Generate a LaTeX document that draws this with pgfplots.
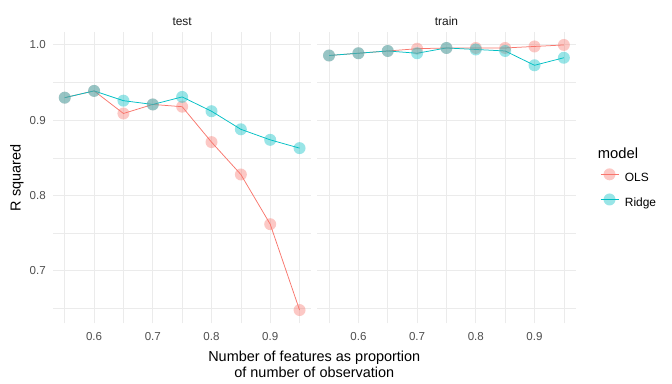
\documentclass[border=0pt]{standalone}
\usepackage{fontspec}
\setmainfont{Liberation Sans}
\usepackage{pgfplots}
\pgfplotsset{compat=1.18}
\definecolor{olsc}{HTML}{F8766D}
\definecolor{ridgec}{HTML}{00BFC4}
\definecolor{gridc}{HTML}{EBEBEB}
\definecolor{tickc}{HTML}{4D4D4D}
\definecolor{stripc}{HTML}{1A1A1A}
\pgfplotsset{
  panel/.style={
    scale only axis, width=258.3bp, height=291.6bp,
    xmin=0.53, xmax=0.97, ymin=0.6304, ymax=1.0176,
    clip=false,
    axis line style={draw=none}, major tick length=0pt, minor tick length=0pt,
    tick style={draw=none},
    xtick={0.6,0.7,0.8,0.9}, minor xtick={0.55,0.65,0.75,0.85,0.95},
    ytick={0.7,0.8,0.9,1.0}, minor ytick={0.65,0.75,0.85,0.95},
    xticklabels={0.6,0.7,0.8,0.9},
    grid=both,
    major grid style={draw=gridc, line width=1bp},
    minor grid style={draw=gridc, line width=0.55bp},
    tick label style={font=\fontsize{11.6}{13}\selectfont, text=tickc},
    xticklabel style={anchor=north, inner sep=0pt, yshift=-9.2bp},
    yticklabel style={anchor=east, inner sep=0pt, xshift=-7bp},
  },
  ols/.style={color=olsc, line width=0.75bp, mark=*, mark size=6bp,
    mark options={fill=olsc, fill opacity=0.4, draw opacity=0}},
  ridge/.style={color=ridgec, line width=0.75bp, mark=*, mark size=6bp,
    mark options={fill=ridgec, fill opacity=0.4, draw opacity=0}},
}
\begin{document}
\begin{tikzpicture}
\useasboundingbox (0,0) rectangle (672bp,384bp);
\begin{axis}[panel, at={(53bp,60.7bp)}, anchor=south west,
  yticklabels={0.7,0.8,0.9,1.0}]
\addplot[ols] coordinates {(0.55,0.930)(0.60,0.939)(0.65,0.909)(0.70,0.921)(0.75,0.918)(0.80,0.871)(0.85,0.828)(0.90,0.762)(0.95,0.648)};
\addplot[ridge] coordinates {(0.55,0.930)(0.60,0.939)(0.65,0.926)(0.70,0.921)(0.75,0.931)(0.80,0.912)(0.85,0.888)(0.90,0.874)(0.95,0.863)};
\node[anchor=base, inner sep=0pt, yshift=6.5bp, font=\fontsize{12}{13}\selectfont, text=stripc] at (axis description cs:0.5,1) {test};
\end{axis}
\begin{axis}[panel, at={(317.3bp,60.7bp)}, anchor=south west,
  yticklabels={},
  legend style={at={(1.095,0.5314)}, anchor=north west, draw=none, fill=none,
    inner sep=0pt, outer sep=0pt, row sep=9.3bp, column sep=6bp,
    font=\fontsize{12}{13}\selectfont,
    nodes={inner sep=0pt, text height=8.6bp, text depth=2.5bp}},
  legend cell align=left,
  legend image code/.code={\draw[#1, mark repeat=2, mark phase=2] plot coordinates {(0bp,4.3bp) (9bp,4.3bp) (18bp,4.3bp)};}]
\addplot[ols] coordinates {(0.55,0.986)(0.60,0.989)(0.65,0.992)(0.70,0.995)(0.75,0.996)(0.80,0.996)(0.85,0.996)(0.90,0.998)(0.95,1.000)};
\addlegendentry{OLS}
\addplot[ridge] coordinates {(0.55,0.986)(0.60,0.989)(0.65,0.992)(0.70,0.989)(0.75,0.996)(0.80,0.994)(0.85,0.992)(0.90,0.973)(0.95,0.983)};
\addlegendentry{Ridge}
\node[anchor=base, inner sep=0pt, yshift=6.5bp, font=\fontsize{12}{13}\selectfont, text=stripc] at (axis description cs:0.5,1) {train};
\end{axis}
\node[anchor=base, rotate=90, inner sep=0pt, font=\fontsize{14.5}{16}\selectfont] at (20.5bp,206.2bp) {R squared};
\node[anchor=base, inner sep=0pt, font=\fontsize{14.5}{16}\selectfont] at (314.3bp,22.3bp) {Number of features as proportion};
\node[anchor=base, inner sep=0pt, font=\fontsize{14.5}{16}\selectfont] at (314.3bp,6.7bp) {of number of observation};
\node[anchor=base west, inner sep=0pt, font=\fontsize{14.8}{16}\selectfont] at (597.7bp,225bp) {model};
\end{tikzpicture}
\end{document}
